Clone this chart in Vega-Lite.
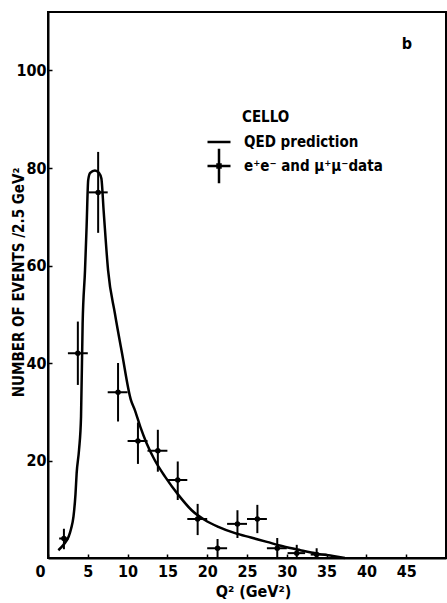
{
  "$schema": "https://vega.github.io/schema/vega-lite/v6.json",
  "width": 398,
  "height": 546,
  "autosize": {"type": "none"},
  "padding": {"left": 48, "top": 12, "right": 1, "bottom": 45},
  "background": "white",
  "config": {
    "view": {"stroke": "black", "strokeWidth": 2},
    "font": "DejaVu Sans Condensed, Liberation Sans, sans-serif",
    "axis": {
      "domainColor": "black", "domainWidth": 2, "tickColor": "black", "tickWidth": 1.5, "tickSize": -4,
      "grid": false, "labelFont": "DejaVu Sans Condensed, Liberation Sans, sans-serif", "labelFontWeight": "bold", "labelFontSize": 16,
      "labelColor": "black", "titleFont": "DejaVu Sans Condensed, Liberation Sans, sans-serif", "titleFontWeight": "bold", "titleColor": "black"
    }
  },
  "title": {"text": "b", "anchor": "end", "dx": -34, "dy": 44, "fontSize": 16, "font": "DejaVu Sans Condensed, Liberation Sans, sans-serif", "fontWeight": "bold", "color": "black"},
  "datasets": {
    "qed": [
      {"q": 1.3, "n": 1.6, "series": "QED prediction"},
      {"q": 2.0, "n": 2.8, "series": "QED prediction"},
      {"q": 2.6, "n": 4.4, "series": "QED prediction"},
      {"q": 2.9, "n": 6.0, "series": "QED prediction"},
      {"q": 3.2, "n": 8.5, "series": "QED prediction"},
      {"q": 3.45, "n": 13, "series": "QED prediction"},
      {"q": 3.6, "n": 17.4, "series": "QED prediction"},
      {"q": 3.9, "n": 22.2, "series": "QED prediction"},
      {"q": 4.15, "n": 29, "series": "QED prediction"},
      {"q": 4.35, "n": 48, "series": "QED prediction"},
      {"q": 4.65, "n": 59, "series": "QED prediction"},
      {"q": 4.85, "n": 68, "series": "QED prediction"},
      {"q": 5.05, "n": 77.5, "series": "QED prediction"},
      {"q": 5.3, "n": 79, "series": "QED prediction"},
      {"q": 5.9, "n": 79.5, "series": "QED prediction"},
      {"q": 6.4, "n": 79, "series": "QED prediction"},
      {"q": 6.7, "n": 77.9, "series": "QED prediction"},
      {"q": 7.0, "n": 71, "series": "QED prediction"},
      {"q": 7.55, "n": 59, "series": "QED prediction"},
      {"q": 8.4, "n": 50.2, "series": "QED prediction"},
      {"q": 9.3, "n": 42, "series": "QED prediction"},
      {"q": 10.4, "n": 32.5, "series": "QED prediction"},
      {"q": 10.9, "n": 30.4, "series": "QED prediction"},
      {"q": 11.6, "n": 26.9, "series": "QED prediction"},
      {"q": 12.4, "n": 23.5, "series": "QED prediction"},
      {"q": 13.4, "n": 20.1, "series": "QED prediction"},
      {"q": 14.7, "n": 16.7, "series": "QED prediction"},
      {"q": 16.4, "n": 12.9, "series": "QED prediction"},
      {"q": 18.05, "n": 9.8, "series": "QED prediction"},
      {"q": 19.7, "n": 7.8, "series": "QED prediction"},
      {"q": 21.4, "n": 6.4, "series": "QED prediction"},
      {"q": 23.5, "n": 5.1, "series": "QED prediction"},
      {"q": 25.5, "n": 4.2, "series": "QED prediction"},
      {"q": 27.5, "n": 3.3, "series": "QED prediction"},
      {"q": 29.5, "n": 2.4, "series": "QED prediction"},
      {"q": 31.7, "n": 1.6, "series": "QED prediction"},
      {"q": 33.8, "n": 0.9, "series": "QED prediction"},
      {"q": 35.8, "n": 0.4, "series": "QED prediction"},
      {"q": 37.3, "n": 0, "series": "QED prediction"}
    ],
    "data": [
      {"q": 2.0, "n": 4, "qlo": 1.4, "qhi": 2.6, "nlo": 1.8, "nhi": 6, "series": "e⁺e⁻ and μ⁺μ⁻data"},
      {"q": 3.75, "n": 42, "qlo": 2.5, "qhi": 5.0, "nlo": 35.5, "nhi": 48.5, "series": "e⁺e⁻ and μ⁺μ⁻data"},
      {"q": 6.3, "n": 75, "qlo": 5.1, "qhi": 7.5, "nlo": 66.7, "nhi": 83.3, "series": "e⁺e⁻ and μ⁺μ⁻data"},
      {"q": 8.8, "n": 34, "qlo": 7.5, "qhi": 10.0, "nlo": 28, "nhi": 40, "series": "e⁺e⁻ and μ⁺μ⁻data"},
      {"q": 11.3, "n": 24, "qlo": 10.0, "qhi": 12.5, "nlo": 19.3, "nhi": 27.8, "series": "e⁺e⁻ and μ⁺μ⁻data"},
      {"q": 13.8, "n": 22, "qlo": 12.5, "qhi": 15.0, "nlo": 17.7, "nhi": 26.3, "series": "e⁺e⁻ and μ⁺μ⁻data"},
      {"q": 16.3, "n": 16, "qlo": 15.0, "qhi": 17.5, "nlo": 11.9, "nhi": 19.8, "series": "e⁺e⁻ and μ⁺μ⁻data"},
      {"q": 18.8, "n": 8, "qlo": 17.5, "qhi": 20.0, "nlo": 4.7, "nhi": 11.1, "series": "e⁺e⁻ and μ⁺μ⁻data"},
      {"q": 21.3, "n": 2, "qlo": 20.0, "qhi": 22.5, "nlo": 0, "nhi": 3.9, "series": "e⁺e⁻ and μ⁺μ⁻data"},
      {"q": 23.8, "n": 7, "qlo": 22.5, "qhi": 25.0, "nlo": 4.1, "nhi": 9.8, "series": "e⁺e⁻ and μ⁺μ⁻data"},
      {"q": 26.3, "n": 8, "qlo": 25.0, "qhi": 27.5, "nlo": 5.1, "nhi": 10.9, "series": "e⁺e⁻ and μ⁺μ⁻data"},
      {"q": 28.8, "n": 2, "qlo": 27.5, "qhi": 30.0, "nlo": 0, "nhi": 4.1, "series": "e⁺e⁻ and μ⁺μ⁻data"},
      {"q": 31.25, "n": 1, "qlo": 30.1, "qhi": 32.3, "nlo": 0, "nhi": 2.7, "series": "e⁺e⁻ and μ⁺μ⁻data"},
      {"q": 33.75, "n": 0.7, "qlo": 33.0, "qhi": 35.0, "nlo": 0, "nhi": 2.0, "series": "e⁺e⁻ and μ⁺μ⁻data"}
    ]
  },
  "layer": [
    {
      "data": {"name": "qed"},
      "mark": {"type": "line", "strokeWidth": 2.5, "interpolate": "monotone"},
      "encoding": {
        "x": {"field": "q", "type": "quantitative", "scale": {"domain": [0, 50], "nice": false},
          "axis": {"values": [0, 5, 10, 15, 20, 25, 30, 35, 40, 45], "labelFlush": false, "labelPadding": 9,
            "labelOffset": {"condition": {"test": "datum.value === 0", "value": -8}, "value": 0},
            "title": "Q² (GeV²)", "titleFontSize": 16, "titlePadding": 4, "titleX": 205}},
        "y": {"field": "n", "type": "quantitative", "scale": {"domain": [0, 112], "nice": false},
          "axis": {"values": [20, 40, 60, 80, 100], "labelPadding": 6, "title": "NUMBER OF EVENTS /2.5 GeV²", "titleFontSize": 15, "titleX": -22, "titleY": 270, "titleAnchor": "middle"}},
        "color": {"field": "series", "type": "nominal",
          "scale": {"domain": ["QED prediction", "e⁺e⁻ and μ⁺μ⁻data"], "range": ["black", "black"]},
          "legend": {"title": "CELLO", "orient": "none", "legendX": 158, "legendY": 98,
            "titleFont": "DejaVu Sans Condensed, Liberation Sans, sans-serif", "titleFontSize": 15, "titleFontWeight": "bold", "titleColor": "black",
            "labelFont": "DejaVu Sans Condensed, Liberation Sans, sans-serif", "labelFontSize": 15, "labelFontWeight": "bold", "labelColor": "black",
            "symbolSize": 529, "labelOffset": 12, "rowPadding": -7, "titlePadding": 4,
            "encode": {
              "symbols": {"update": {
                "shape": {"signal": "datum.value === 'QED prediction' ? 'stroke' : 'M-1,0H1M0,-1.5V1.5M-0.13,-0.13H0.13V0.13H-0.13Z'"},
                "stroke": {"value": "black"}, "fill": {"value": "black"}, "strokeWidth": {"value": 2.5}, "opacity": {"value": 1}}},
              "title": {"update": {"dx": {"value": 36}}}
            }}}
      }
    },
    {
      "data": {"name": "data"},
      "mark": {"type": "rule", "color": "black", "strokeWidth": 2},
      "encoding": {"x": {"field": "q", "type": "quantitative"}, "y": {"field": "nlo", "type": "quantitative"}, "y2": {"field": "nhi"}}
    },
    {
      "data": {"name": "data"},
      "mark": {"type": "rule", "color": "black", "strokeWidth": 2},
      "encoding": {"x": {"field": "qlo", "type": "quantitative"}, "x2": {"field": "qhi"}, "y": {"field": "n", "type": "quantitative"}}
    },
    {
      "data": {"name": "data"},
      "mark": {"type": "point", "filled": true, "size": 30, "opacity": 1},
      "encoding": {"x": {"field": "q", "type": "quantitative"}, "y": {"field": "n", "type": "quantitative"},
        "color": {"field": "series", "type": "nominal"}}
    }
  ]
}
